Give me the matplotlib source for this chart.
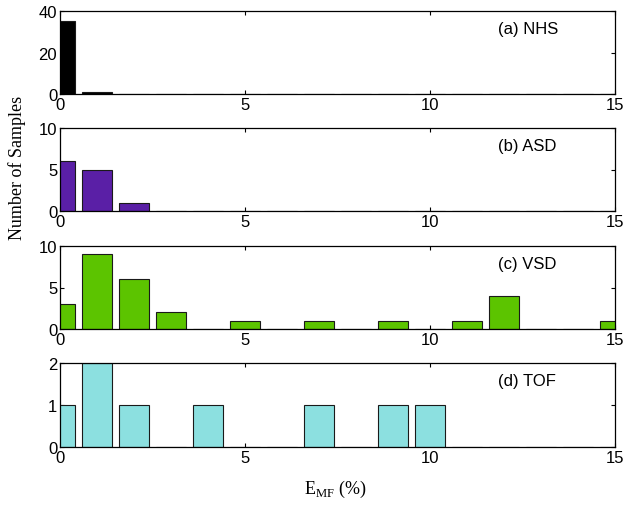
import matplotlib
matplotlib.use("Agg")
import matplotlib.pyplot as plt
import numpy as np

bin_centers = list(range(16))
nhs_counts = [35, 1, 0, 0, 0, 0, 0, 0, 0, 0, 0, 0, 0, 0, 0, 0]
asd_counts = [6, 5, 1, 0, 0, 0, 0, 0, 0, 0, 0, 0, 0, 0, 0, 0]
vsd_counts = [3, 9, 6, 2, 0, 1, 0, 1, 0, 1, 0, 1, 4, 0, 0, 1]
tof_counts = [1, 2, 1, 0, 1, 0, 0, 1, 0, 1, 1, 0, 0, 0, 0, 0]

labels = ["(a) NHS", "(b) ASD", "(c) VSD", "(d) TOF"]
colors = ["#000000", "#5a1fa6", "#5cc400", "#8ce0e0"]
yticks = [[0, 20, 40], [0, 5, 10], [0, 5, 10], [0, 1, 2]]
xticks = [0, 5, 10, 15]

W, H = 628, 506
fig = plt.figure(figsize=(W / 100, H / 100), dpi=100)

# axes boxes in pixels (top, bottom)
boxes = [(12, 95), (129, 212), (247, 330), (364, 448)]
left_px, right_px = 60, 615

tick_font = "Liberation Sans"
series = [nhs_counts, asd_counts, vsd_counts, tof_counts]
for i, (counts, lab, col, yt) in enumerate(zip(series, labels, colors, yticks)):
    top, bot = boxes[i]
    ax = fig.add_axes([left_px / W, 1 - bot / H, (right_px - left_px) / W, (bot - top) / H])
    ax.bar(bin_centers, counts, width=0.8, color=col, edgecolor="#1a1a1a",
           linewidth=0.8, align="center", zorder=2)
    ax.set_xlim(0, 15)
    ax.set_ylim(yt[0], yt[-1])
    ax.set_xticks(xticks)
    ax.set_yticks(yt)
    ax.tick_params(direction="in", top=True, right=True, length=3, width=0.8,
                   labelsize=12, pad=2)
    for t in ax.get_xticklabels() + ax.get_yticklabels():
        t.set_fontfamily(tick_font)
    for s in ax.spines.values():
        s.set_linewidth(0.9)
    ax.text(0.79, 0.79, lab, transform=ax.transAxes, fontsize=12,
            fontfamily=tick_font, ha="left", va="center")

fig.text(17 / W, 1 - 168 / H, "Number of Samples", rotation=90, ha="center",
         va="center", fontsize=13, fontfamily="Liberation Serif")
fig.text(335 / W, 1 - 489 / H, r"E$_{\mathregular{MF}}$ (%)", ha="center",
         va="center", fontsize=13, fontfamily="Liberation Serif")

fig.savefig("out.png", dpi=100)
